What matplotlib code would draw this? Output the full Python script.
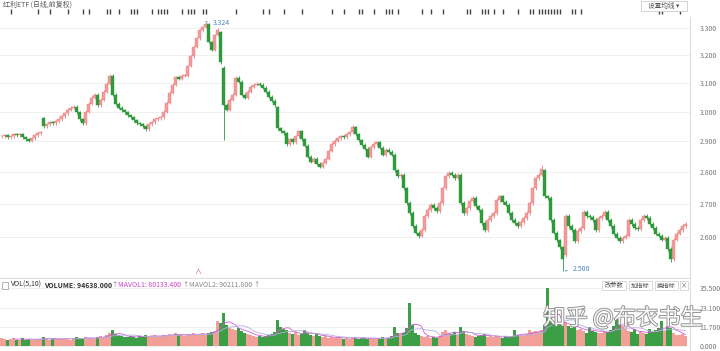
import numpy as np
import pandas as pd
import matplotlib
matplotlib.use('Agg')
import matplotlib.pyplot as plt
import matplotlib.patheffects as pe
from matplotlib.patches import Rectangle
from matplotlib.ticker import FixedLocator, NullLocator, NullFormatter

plt.rcParams['font.family'] = ['Noto Sans CJK SC', 'DejaVu Sans']

# daily closes (left to right)
closes = [
    2.916, 2.920, 2.914, 2.916, 2.924, 2.920, 2.924, 2.914, 2.907, 2.901,
    2.910, 2.920, 2.927, 2.930, 2.950, 2.957, 2.964, 2.960, 2.967, 2.974,
    2.984, 2.994, 3.007, 3.014, 3.017, 2.997, 2.974, 2.960, 3.000, 3.027,
    3.048, 3.058, 3.021, 3.041, 3.069, 3.097, 3.125, 3.058, 3.027, 3.014,
    3.004, 2.997, 2.987, 2.980, 2.970, 2.960, 2.957, 2.950, 2.940, 2.957,
    2.964, 2.974, 2.977, 2.980, 3.000, 3.031, 3.065, 3.093, 3.121, 3.114,
    3.125, 3.125, 3.160, 3.196, 3.229, 3.262, 3.292, 3.304, 3.315, 3.248,
    3.218, 3.274, 3.292, 3.173, 3.024, 3.007, 3.041, 3.058, 3.118, 3.104,
    3.058, 3.048, 3.069, 3.086, 3.093, 3.097, 3.093, 3.083, 3.069, 3.051,
    3.038, 3.021, 2.944, 2.934, 2.927, 2.891, 2.907, 2.897, 2.917, 2.934,
    2.907, 2.885, 2.849, 2.833, 2.843, 2.827, 2.817, 2.830, 2.843, 2.869,
    2.891, 2.901, 2.910, 2.917, 2.914, 2.924, 2.930, 2.947, 2.924, 2.904,
    2.888, 2.875, 2.849, 2.881, 2.891, 2.897, 2.878, 2.856, 2.872, 2.865,
    2.856, 2.805, 2.786, 2.792, 2.748, 2.703, 2.672, 2.633, 2.613, 2.604,
    2.621, 2.663, 2.681, 2.697, 2.687, 2.678, 2.703, 2.748, 2.786, 2.798,
    2.792, 2.780, 2.792, 2.703, 2.672, 2.687, 2.709, 2.718, 2.693, 2.681,
    2.642, 2.621, 2.651, 2.663, 2.672, 2.712, 2.724, 2.706, 2.697, 2.672,
    2.651, 2.642, 2.633, 2.645, 2.657, 2.672, 2.703, 2.748, 2.780, 2.792,
    2.811, 2.724, 2.718, 2.651, 2.613, 2.590, 2.569, 2.534, 2.663, 2.633,
    2.621, 2.587, 2.618, 2.627, 2.675, 2.663, 2.660, 2.651, 2.621, 2.657,
    2.663, 2.675, 2.651, 2.633, 2.610, 2.598, 2.587, 2.598, 2.604, 2.651,
    2.639, 2.627, 2.624, 2.651, 2.663, 2.657, 2.639, 2.627, 2.610, 2.604,
    2.592, 2.598, 2.564, 2.534, 2.592, 2.610, 2.621, 2.633, 2.639,
]
# gap opens and long shadows that stand out
open_fix = {14: 2.977, 73: 3.285, 74: 3.154, 181: 2.805, 188: 2.546, 92: 3.015}
high_fix = {36: 3.132, 68: 3.324, 72: 3.300, 117: 2.953, 180: 2.822}
low_fix = {74: 2.903, 187: 2.500, 223: 2.526, 139: 2.596}

volumes = [
    5.0, 4.2, 3.8, 4.6, 5.2, 3.5, 4.0, 4.8, 3.6, 4.4,
    4.0, 3.8, 4.5, 4.2, 5.8, 4.6, 3.9, 4.3, 5.0, 4.1,
    4.4, 5.1, 4.7, 3.9, 4.5, 5.3, 4.8, 4.2, 5.6, 4.9,
    5.2, 4.6, 5.8, 6.3, 5.5, 6.8, 8.0, 9.6, 7.2, 6.5,
    6.0, 5.4, 5.8, 6.2, 5.6, 5.0, 6.4, 5.9, 6.8, 5.5,
    6.1, 6.6, 5.8, 6.4, 7.0, 6.2, 7.4, 6.8, 7.8, 6.6,
    7.2, 6.0, 7.6, 6.8, 7.9, 6.5, 7.4, 8.2, 7.0, 7.8,
    8.6, 9.5, 15.6, 14.0, 20.5, 13.0, 11.2, 10.4, 9.8, 11.0,
    9.2, 8.0, 7.5, 6.8, 6.2, 5.8, 6.4, 5.5, 6.0, 6.8,
    7.2, 8.5, 16.0, 11.5, 10.2, 9.6, 8.0, 7.2, 8.6, 6.8,
    7.5, 9.6, 8.2, 7.0, 6.4, 7.4, 6.0, 5.6, 6.2, 5.0,
    5.4, 4.8, 5.6, 5.0, 4.6, 5.2, 4.4, 5.8, 5.0, 4.6,
    4.8, 5.2, 4.4, 4.9, 4.2, 5.0, 4.6, 5.4, 4.8, 5.2,
    6.0, 11.4, 8.0, 7.2, 8.0, 11.0, 26.5, 12.6, 8.2, 7.0,
    6.2, 5.4, 6.0, 4.8, 5.6, 5.0, 6.4, 8.6, 9.8, 8.2,
    7.4, 8.8, 7.0, 11.4, 9.0, 7.6, 6.5, 6.0, 5.8, 6.4,
    6.8, 7.2, 5.8, 6.0, 5.4, 6.2, 5.6, 5.0, 6.0, 5.4,
    6.0, 9.6, 6.8, 7.0, 6.2, 7.4, 10.0, 8.6, 9.2, 8.4,
    9.6, 12.6, 35.5, 17.0, 14.8, 16.5, 13.2, 12.0, 15.0, 12.4,
    11.0, 12.2, 9.8, 10.5, 9.0, 8.2, 11.6, 9.4, 8.6, 8.0,
    7.8, 9.0, 8.4, 10.0, 12.4, 16.5, 14.0, 12.0, 10.6, 9.2,
    8.8, 10.2, 7.6, 9.0, 8.0, 7.2, 10.6, 8.4, 9.8, 11.0,
    15.6, 9.4, 12.4, 10.8, 8.0, 7.0, 6.6, 7.4, 6.2,
]

# event marks in the strip above the chart (candle index)
marks = [3, 12, 16, 22, 27, 29, 35, 36, 39, 43, 44, 45, 50, 52, 53, 54, 55,
         60, 62, 63, 64, 67, 68, 78, 87, 89, 94, 100, 110, 114, 119, 120, 124,
         128, 129, 130, 132, 140, 143, 147, 155, 156, 160, 161, 162, 164, 167,
         172, 176, 177, 179, 180, 181, 182, 183, 184, 185, 186, 190, 191, 193,
         219, 220, 226]

price_ticks = [2.6, 2.7, 2.8, 2.9, 3.0, 3.1, 3.2, 3.3]
vol_ticks = [0.0, 11.7, 23.1, 35.5]
vol_labels = ['0.000', '11.700', '23.100', '35.500']

UP = '#f39a9a'
UP_EDGE = '#ee8080'
DOWN = '#2f9a3c'
VUP = '#f2a097'
VDOWN = '#3d9f45'
GRID = '#eeeeee'
LBL = '#777777'

W, H = 720, 351


def box(l, t, r, b):
    return [l / W, 1 - b / H, (r - l) / W, (b - t) / H]


def fpos(x, y):
    return x / W, 1 - y / H


n = len(closes)
x = np.arange(n)
c = np.array(closes)
o = np.r_[c[0], c[:-1]]
for k, v in open_fix.items():
    o[k] = v
hi = np.maximum(o, c) + 0.005
lo = np.minimum(o, c) - 0.005
for k, v in high_fix.items():
    hi[k] = v
for k, v in low_fix.items():
    lo[k] = v
up = c >= o

fig = plt.figure(figsize=(7.2, 3.51), dpi=100)

# ---- price panel
ax = fig.add_axes(box(0, 17, 690, 278))
ax.set_yscale('log')
ax.set_ylim(2.481, 3.342)
ax.set_xlim(-0.5, 229.5)
for i in range(n):
    col = UP_EDGE if up[i] else DOWN
    ax.vlines(x[i], lo[i], hi[i], color=col, lw=0.6, zorder=2)
body_h = np.maximum(np.abs(c - o), 0.002)
ax.bar(x[up], body_h[up], bottom=np.minimum(o, c)[up], width=0.7,
       color=UP, edgecolor=UP_EDGE, lw=0.3, zorder=3)
ax.bar(x[~up], body_h[~up], bottom=np.minimum(o, c)[~up], width=0.7,
       color=DOWN, edgecolor=DOWN, lw=0.3, zorder=3)

ax.yaxis.set_major_locator(FixedLocator(price_ticks))
ax.yaxis.set_minor_locator(NullLocator())
ax.yaxis.set_minor_formatter(NullFormatter())
ax.set_yticklabels(['%.3f' % t for t in price_ticks])
ax.yaxis.tick_right()
ax.tick_params(axis='y', length=0, pad=7, labelsize=5, colors=LBL)
ax.set_xticks([])
ax.grid(axis='y', color=GRID, lw=0.6, zorder=0)
for s in ['top', 'left']:
    ax.spines[s].set_visible(False)
ax.spines['right'].set_color('#dddddd')
ax.spines['bottom'].set_color('#dddddd')
ax.spines['right'].set_linewidth(0.8)

blue = '#4a86c5'
ax.annotate('3.324', xy=(68, 3.324), xytext=(70.5, 3.318), color=blue,
            fontsize=5, va='center',
            arrowprops=dict(arrowstyle='-', color=blue, lw=0.6))
ax.annotate('2.500', xy=(187, 2.500), xytext=(190.5, 2.508), color=blue,
            fontsize=5, va='center',
            arrowprops=dict(arrowstyle='-', color=blue, lw=0.6))
ax.text(65.3, 2.487, '\u2227', color='#e05050', fontsize=5, ha='center',
        va='bottom')

# ---- marks strip
axm = fig.add_axes(box(0, 0, 690, 17))
axm.set_xlim(-0.5, 229.5)
axm.set_ylim(0, 1)
axm.vlines(marks, 0.18, 0.5, color='#444444', lw=1.0)
axm.axis('off')
fig.text(3 / W, 1 - 5 / H, '红利ETF (日线,前复权)', fontsize=5, color='#555555',
         va='center', ha='left')
fig.patches.append(Rectangle(fpos(641, 11), 46 / W, 10 / H,
                             transform=fig.transFigure, facecolor='white',
                             edgecolor='#cccccc', lw=0.6))
fig.text(664 / W, 1 - 6 / H, '设置均线 ▾', fontsize=4.8, color='#555555',
         ha='center', va='center')

# ---- volume panel
axv = fig.add_axes(box(0, 279, 690, 351))
axv.set_xlim(-0.5, 229.5)
axv.set_ylim(-3.0, 41.0)
vol = np.array(volumes)
axv.bar(x, vol, width=0.7, color=np.where(up, VUP, VDOWN), lw=0, zorder=2)
vs = pd.Series(vol)
axv.plot(x, vs.rolling(5).mean(), color='#d45ad4', lw=0.6, zorder=3)
axv.plot(x, vs.rolling(10).mean(), color='#b4aee0', lw=0.6, zorder=3)
axv.yaxis.set_major_locator(FixedLocator(vol_ticks))
axv.set_yticklabels(vol_labels)
axv.yaxis.tick_right()
axv.tick_params(axis='y', length=0, pad=7, labelsize=5, colors=LBL)
axv.set_xticks([])
axv.grid(axis='y', color=GRID, lw=0.6, zorder=0)
for s in ['top', 'left', 'bottom']:
    axv.spines[s].set_visible(False)
axv.spines['right'].set_color('#dddddd')
axv.spines['right'].set_linewidth(0.8)

hy = 1 - 285 / H
fig.patches.append(Rectangle(fpos(2, 289), 6 / W, 7 / H,
                             transform=fig.transFigure, facecolor='white',
                             edgecolor='#999999', lw=0.5))
fig.text(11 / W, hy, 'VOL(5,10)', fontsize=5, color='#333333', va='center')
fig.text(44 / W, hy, 'VOLUME: 94638.000', fontsize=5, color='#333333',
         va='center', weight='bold')
fig.text(111 / W, hy, '↑', fontsize=4.5, color='#777777', va='center')
fig.text(118 / W, hy, 'MAVOL1: 80133.400', fontsize=5, color='#cc44cc',
         va='center')
fig.text(182 / W, hy, '↑', fontsize=4.5, color='#777777', va='center')
fig.text(189 / W, hy, 'MAVOL2: 90211.800', fontsize=5, color='#888888',
         va='center')
fig.text(253 / W, hy, '↑', fontsize=4.5, color='#777777', va='center')

for lx, rx, t in [(602, 626, '改参数'), (629, 652, '加指标'),
                  (655, 678, '换指标'), (680, 688, '×')]:
    fig.patches.append(Rectangle(fpos(lx, 290), (rx - lx) / W, 9 / H,
                                 transform=fig.transFigure, facecolor='white',
                                 edgecolor='#cccccc', lw=0.5))
    fig.text((lx + rx) / 2 / W, 1 - 285.5 / H, t, fontsize=4.5,
             color='#555555', ha='center', va='center')

fig.text(623 / W, 1 - 318 / H, '知乎 @布衣书生', fontsize=16, color='white',
         ha='center', va='center', alpha=0.95,
         path_effects=[pe.withStroke(linewidth=1.3, foreground='#8a8a8a')])

fig.savefig('out.png', dpi=100)
